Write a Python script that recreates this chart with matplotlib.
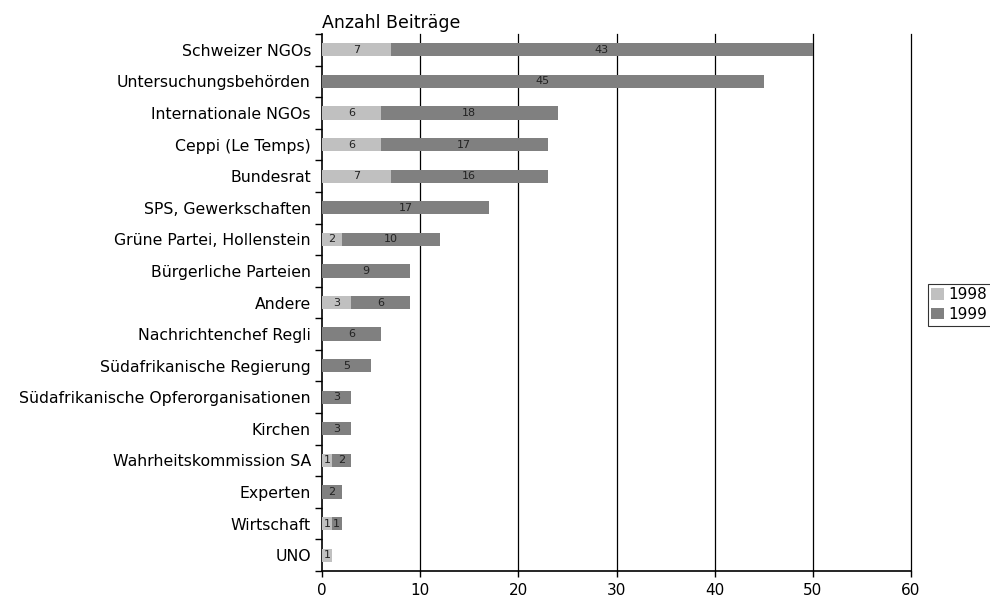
import numpy as np
import matplotlib.pyplot as plt

# -----------------------------
# Data (top to bottom)
# -----------------------------
categories = ['Schweizer NGOs', 'Untersuchungsbehörden', 'Internationale NGOs',
              'Ceppi (Le Temps)', 'Bundesrat', 'SPS, Gewerkschaften',
              'Grüne Partei, Hollenstein', 'Bürgerliche Parteien', 'Andere',
              'Nachrichtenchef Regli', 'Südafrikanische Regierung',
              'Südafrikanische Opferorganisationen', 'Kirchen',
              'Wahrheitskommission SA', 'Experten', 'Wirtschaft', 'UNO']
v1998 = [7, 0, 6, 6, 7, 0, 2, 0, 3, 0, 0, 0, 0, 1, 0, 1, 1]
v1999 = [43, 45, 18, 17, 16, 17, 10, 9, 6, 6, 5, 3, 3, 2, 2, 1, 0]
x_ticks = [0, 10, 20, 30, 40, 50, 60]

c98 = '#c0c0c0'
c99 = '#808080'

plt.rcParams['font.family'] = 'DejaVu Sans'

fig = plt.figure(figsize=(9.9, 6.02), dpi=100)
ax = fig.add_axes([0.3253, 0.0515, 0.9202 - 0.3253, 0.9435 - 0.0515])

n = len(categories)
y = np.arange(n)[::-1]
h = 0.42

b1 = ax.barh(y, v1998, height=h, color=c98, label='1998', zorder=3)
b2 = ax.barh(y, v1999, left=v1998, height=h, color=c99, label='1999', zorder=3)

# value labels inside segments
for yi, a, b in zip(y, v1998, v1999):
    if a > 0:
        ax.text(a / 2, yi, str(a), ha='center', va='center', fontsize=8,
                color='#222222', zorder=4)
    if b > 0:
        ax.text(a + b / 2, yi, str(b), ha='center', va='center', fontsize=8,
                color='#222222', zorder=4)

ax.set_xlim(0, 60)
ax.set_ylim(-0.5, n - 0.5)
ax.set_xticks(x_ticks)
ax.tick_params(axis='x', labelsize=11, length=4, width=1, pad=5)

# category labels at centres, tick marks at boundaries
ax.set_yticks(y)
ax.set_yticklabels(categories, fontsize=11.3)
ax.tick_params(axis='y', which='major', length=0, pad=8)
ax.set_yticks(np.arange(n + 1) - 0.5, minor=True)
ax.tick_params(axis='y', which='minor', length=5, width=1)

for xv in x_ticks[1:]:
    ax.axvline(xv, color='black', lw=0.9, zorder=1, clip_on=False)

for side in ['top', 'right']:
    ax.spines[side].set_visible(False)
ax.spines['left'].set_linewidth(1.2)
ax.spines['bottom'].set_linewidth(1.2)

ax.set_title('Anzahl Beiträge', loc='left', fontsize=12.5, pad=4)

leg = fig.legend(handles=[b1, b2], labels=['1998', '1999'],
                 loc='center left', bbox_to_anchor=(0.937, 0.494),
                 fontsize=11, frameon=True, fancybox=False,
                 handlelength=0.8, handleheight=0.8, handletextpad=0.3,
                 borderpad=0.25, labelspacing=0.3, borderaxespad=0)
leg.get_frame().set_edgecolor('black')
leg.get_frame().set_linewidth(0.8)

fig.savefig('out.png', dpi=100)
